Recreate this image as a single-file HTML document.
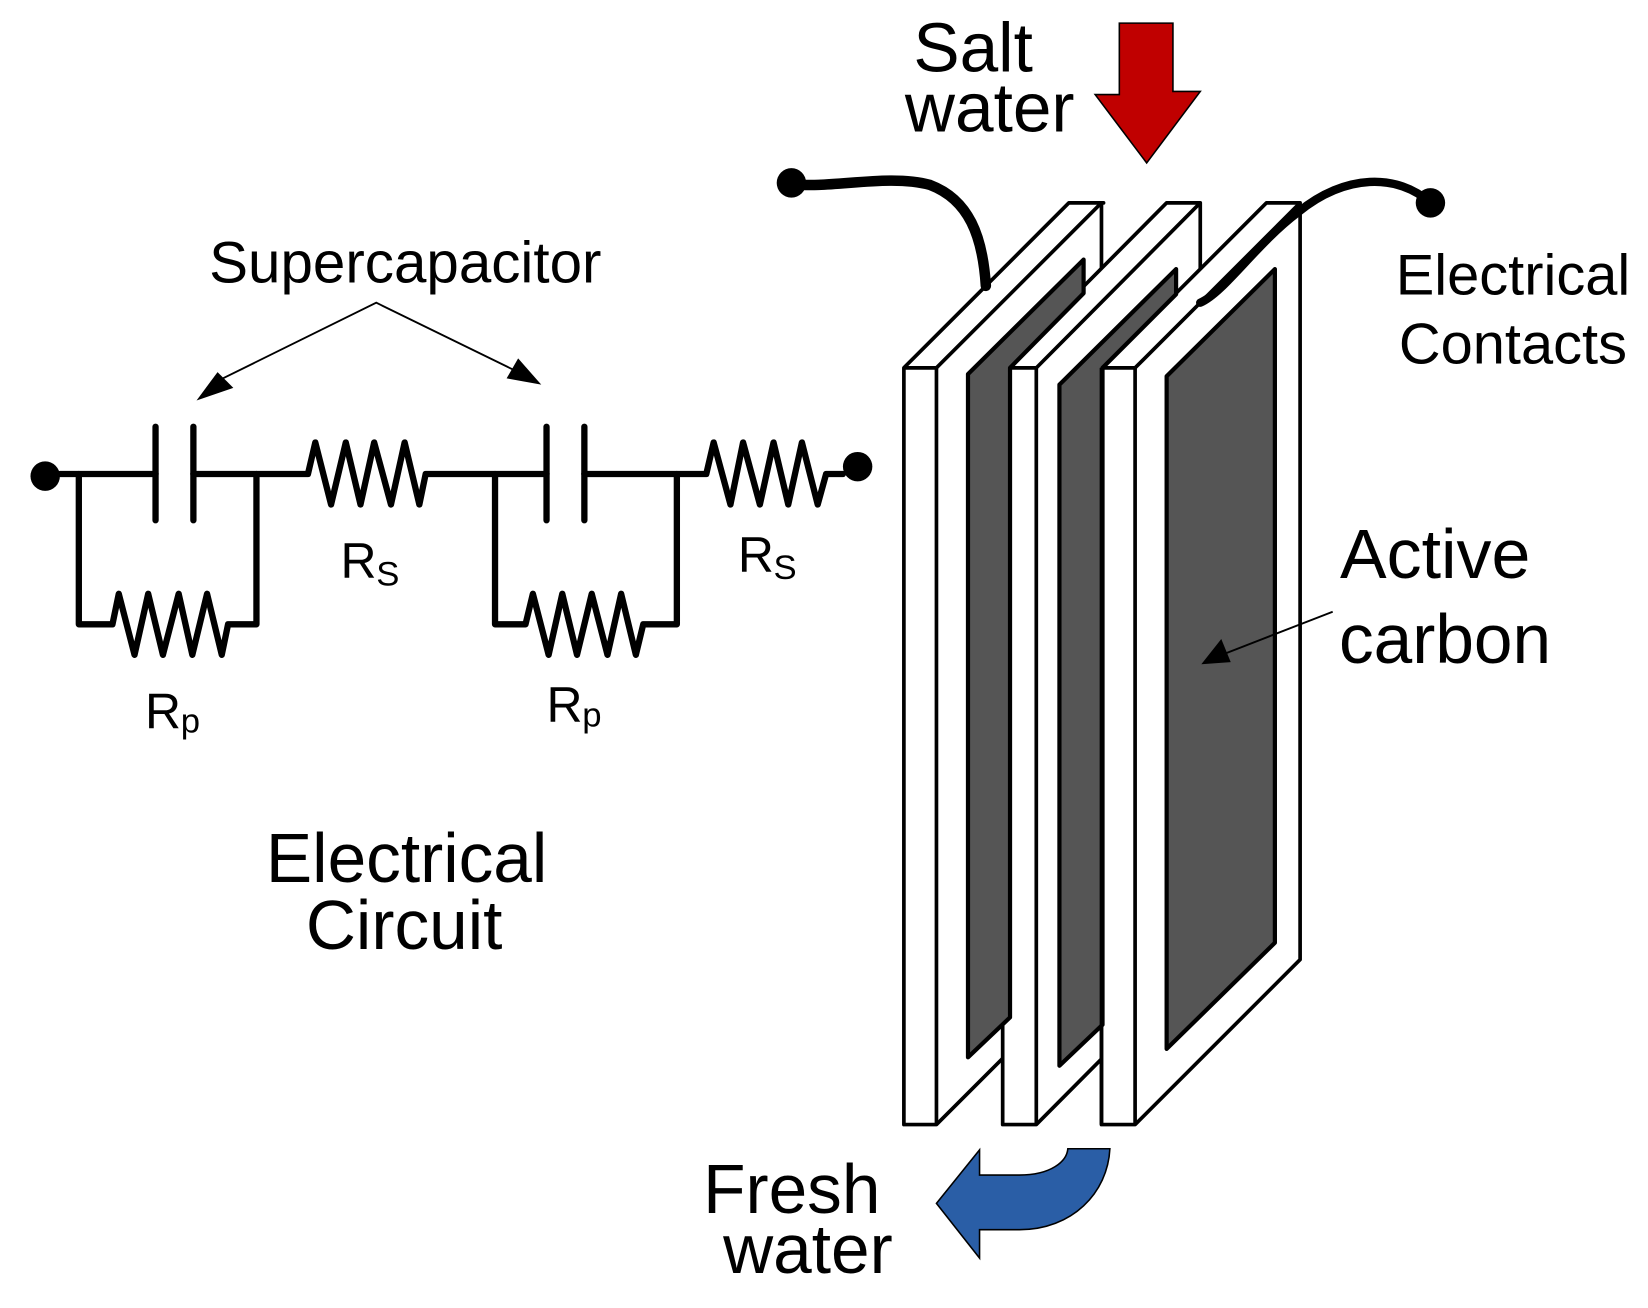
<!DOCTYPE html>
<html><head><meta charset="utf-8"><style>
html,body{margin:0;padding:0;background:#fff}
svg{display:block}
text{font-family:"Liberation Sans",Arial,sans-serif;fill:#000}
</style></head><body>
<svg width="1648" height="1308" viewBox="0 0 1568 1244.5" xmlns="http://www.w3.org/2000/svg">
<rect width="1568" height="1244.5" fill="#fff"/>
<!-- red arrow -->
<polygon points="1065,22 1116,22 1116,87 1142,87 1091,155 1042,90 1065,90" fill="#c00000" stroke="#000" stroke-width="1.5"/>
<!-- plates -->
<g stroke="#000" stroke-width="3.5" stroke-linejoin="round" fill="#fff">
<polygon points="860,350 1017,193 1050,193 1048,193 1048,913 891,1070 860,1070"/>
<line x1="891" y1="350" x2="1048" y2="193"/>
<line x1="891" y1="350" x2="891" y2="1070"/>
<line x1="860" y1="350" x2="891" y2="350"/>
<polygon points="954,350 1110,193 1142,193 1142,913 986,1070 954,1070"/>
<line x1="986" y1="350" x2="1142" y2="193"/>
<line x1="986" y1="350" x2="986" y2="1070"/>
<line x1="954" y1="350" x2="986" y2="350"/>
</g>
<!-- carbon 1 -->
<polygon points="921,356 1031,247 1031,279 961,350 961,968 921,1006" fill="#555" stroke="#000" stroke-width="4" stroke-linejoin="round"/>
<g stroke="#000" stroke-width="3.5" stroke-linejoin="round" fill="#fff">
<polygon points="1048,350 1205,193 1237,193 1237,913 1080,1070 1048,1070"/>
<line x1="1080" y1="350" x2="1237" y2="193"/>
<line x1="1080" y1="350" x2="1080" y2="1070"/>
<line x1="1048" y1="350" x2="1080" y2="350"/>
</g>
<!-- carbon 2 -->
<polygon points="1008,366 1119,256 1119,280 1049,350 1049,975 1008,1014" fill="#555" stroke="#000" stroke-width="4" stroke-linejoin="round"/>
<line x1="1048" y1="350" x2="1048" y2="1070" stroke="#000" stroke-width="3.5"/>
<!-- carbon 3 -->
<polygon points="1110,358 1213,256 1213,897 1110,998" fill="#555" stroke="#000" stroke-width="4" stroke-linejoin="round"/>
<!-- wires -->
<g fill="none" stroke="#000" stroke-linecap="round">
<path d="M753,175 C790,180 845,165 885,176 C922,190 935,225 938,272" stroke-width="10"/>
<path d="M1142,288 C1165,278 1195,232 1235,202 C1280,165 1330,165 1361,193" stroke-width="8"/>
</g>
<circle cx="753" cy="174" r="14"/>
<circle cx="1361" cy="193" r="14"/>
<!-- circuit -->
<circle cx="43" cy="453" r="14"/>
<circle cx="816" cy="444" r="14"/>
<g fill="none" stroke="#000" stroke-width="6" stroke-linejoin="round" stroke-linecap="round">
<line x1="148" y1="406" x2="148" y2="495"/>
<line x1="184" y1="406" x2="184" y2="495"/>
<line x1="520" y1="406" x2="520" y2="495"/>
<line x1="556" y1="406" x2="556" y2="495"/>
<line x1="57" y1="451" x2="148" y2="451"/>
<polyline points="184,451 293,451 300,421 315,480 329,421 343,480 356,421 372,480 385,421 399,480 405,451 435,451 520,451"/>
<polyline points="556,451 672,451 679,421 695,480 707,421 723,480 736,421 750,480 763,421 778,480 786,451 802,451"/>
<polyline points="75,451 75,594 107,594 113,565 128,623 141,565 155,623 170,565 183,623 197,565 211,623 217,594 244,594 244,451"/>
<polyline points="471,451 471,594 500,594 507,565 522,623 535,565 549,623 563,565 578,623 591,565 605,623 612,594 644,594 644,451"/>
</g>
<!-- thin arrows -->
<g stroke="#000" stroke-width="1.8" fill="none">
<polyline points="210,361 358,288 495,355"/>
<line x1="1268" y1="582" x2="1160" y2="624"/>
</g>
<polygon points="187,381 207,354 222,369"/>
<polygon points="515,366 493,341 482,360"/>
<polygon points="1143,632 1162,608 1171,630"/>
<!-- blue arrow -->
<path d="M891,1145 L932,1094 L932,1118 L970,1118 C1000,1118 1015,1105 1016,1093 L1056,1093 C1054,1135 1020,1170 970,1170 L932,1170 L932,1197 Z" fill="#2a5ea6" stroke="#000" stroke-width="1.5"/>
<!-- text -->
<text x="869" y="68" font-size="66">Salt</text>
<text x="861" y="125" font-size="66">water</text>
<text x="199" y="269" font-size="55.5">Supercapacitor</text>
<text x="1328" y="280" font-size="55">Electrical</text>
<text x="1331" y="346" font-size="55">Contacts</text>
<text x="253" y="839" font-size="66">Electrical</text>
<text x="291" y="903" font-size="66">Circuit</text>
<text x="1275" y="550" font-size="66.5">Active</text>
<text x="1274" y="631" font-size="66">carbon</text>
<text x="669" y="1154" font-size="66">Fresh</text>
<text x="688" y="1211" font-size="66">water</text>
<text x="324" y="550" font-size="47.5">R</text><text x="358" y="557" font-size="33">S</text>
<text x="702" y="544" font-size="47.5">R</text><text x="736" y="551" font-size="33">S</text>
<text x="138" y="693" font-size="47.5">R</text><text x="172" y="697" font-size="33">p</text>
<text x="520" y="687" font-size="47.5">R</text><text x="554" y="691" font-size="33">p</text>
</svg>
</body></html>
